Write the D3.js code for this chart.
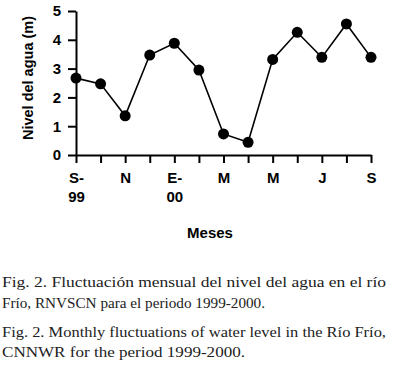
<!DOCTYPE html>
<html>
<head>
<meta charset="utf-8">
<script src="https://cdn.jsdelivr.net/npm/d3@7"></script>
<style>
  body { margin: 0; background: #fff; }
  svg { display: block; }
  .ax text { font-family: "Liberation Sans", Arial, sans-serif; font-weight: bold; font-size: 15px; fill: #000; }
  .cap { font-family: "Times New Roman", "Liberation Serif", Times, serif; font-size: 15px; fill: #222; }
</style>
</head>
<body>
<script>
// monthly water level, Sep 1999 - Sep 2000
const months = ["S99","O99","N99","D99","E00","F00","M00","A00","M00b","J00","J00b","A00b","S00"];
const levels = [2.67, 2.47, 1.36, 3.47, 3.88, 2.95, 0.73, 0.44, 3.32, 4.26, 3.39, 4.55, 3.39];
const xLabels = {S99: ["S-","99"], N99: ["N"], E00: ["E-","00"], M00: ["M"], M00b: ["M"], J00b: ["J"], S00: ["S"]};
const yTicks = [0, 1, 2, 3, 4, 5];
const caption = [
  "Fig. 2. Fluctuación mensual del nivel del agua en el río",
  "Frío, RNVSCN para el periodo 1999-2000.",
  "Fig. 2. Monthly fluctuations of water level in the Río Frío,",
  "CNNWR for the period 1999-2000."
];

const W = 393, H = 372;
const svg = d3.select("body").append("svg").attr("width", W).attr("height", H);

const x = d3.scalePoint().domain(months).range([76, 371]);
const y = d3.scaleLinear().domain([0, 5]).range([155, 11]);

const gx = svg.append("g").attr("class", "ax")
  .attr("transform", "translate(0,155)")
  .call(d3.axisBottom(x).tickSize(8).tickSizeOuter(0).tickFormat(""));
gx.select(".domain").attr("stroke-width", 2);
gx.selectAll(".tick line").attr("stroke-width", 2);
gx.selectAll(".tick").each(function(d) {
  const lab = xLabels[d];
  if (!lab) return;
  const t = d3.select(this).select("text").text(null).attr("y", 0).attr("dy", null);
  lab.forEach((s, i) => {
    t.append("tspan").attr("x", 0).attr("y", 28 + i * 19).text(s);
  });
});

const gy = svg.append("g").attr("class", "ax")
  .attr("transform", "translate(76,0)")
  .call(d3.axisLeft(y).tickValues(yTicks).tickFormat(d3.format("d")).tickSize(8).tickSizeOuter(0).tickPadding(7));
gy.select(".domain").attr("stroke-width", 2);
gy.selectAll(".tick line").attr("stroke-width", 2);

svg.append("text")
  .attr("transform", "translate(33,78) rotate(-90)")
  .attr("text-anchor", "middle")
  .style("font-family", "Liberation Sans, Arial, sans-serif")
  .style("font-weight", "bold").style("font-size", "14.5px")
  .text("Nivel del agua (m)");

svg.append("text")
  .attr("x", 210).attr("y", 238)
  .attr("text-anchor", "middle")
  .style("font-family", "Liberation Sans, Arial, sans-serif")
  .style("font-weight", "bold").style("font-size", "15px")
  .text("Meses");

const line = d3.line().x((d, i) => x(months[i])).y(d => y(d));
svg.append("path").datum(levels)
  .attr("d", line).attr("fill", "none").attr("stroke", "#000").attr("stroke-width", 1.6);

svg.selectAll("circle.pt").data(levels).enter().append("circle")
  .attr("class", "pt")
  .attr("cx", (d, i) => x(months[i]))
  .attr("cy", d => y(d))
  .attr("r", 5.5)
  .attr("fill", "#000");

const capY = [287, 308, 337, 357];
const capLen = [384, 263, 384, 243];
caption.forEach((s, i) => {
  svg.append("text").attr("class", "cap").attr("x", 2).attr("y", capY[i])
    .attr("textLength", capLen[i]).attr("lengthAdjust", "spacingAndGlyphs")
    .text(s);
});
</script>
</body>
</html>
